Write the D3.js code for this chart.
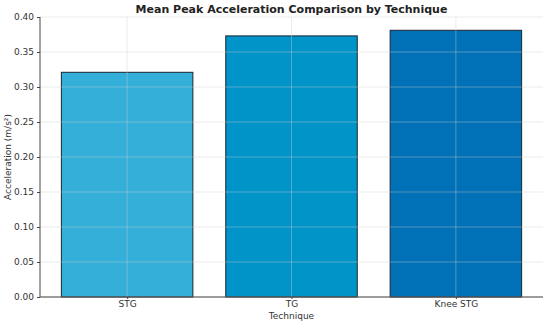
<!DOCTYPE html>
<html><head><meta charset="utf-8">
<script src="https://cdn.jsdelivr.net/npm/d3@7"></script>
<style>body{margin:0;background:#fff}svg{display:block}</style>
</head><body><svg id="c" width="550" height="324"></svg>
<script>
const categories = ["STG", "TG", "Knee STG"];
const values = [0.321, 0.373, 0.381];
const colors = ["#34afd9", "#0094c8", "#0071b7"];
const yTicks = [0, 0.05, 0.10, 0.15, 0.20, 0.25, 0.30, 0.35, 0.40];

const svg = d3.select("#c");
const L = 40, R = 543, T = 17, B = 297;
const x = d3.scaleLinear().domain([-0.53, 2.53]).range([L, R]);
const y = d3.scaleLinear().domain([0, 0.40]).range([B, T]);
const font = "DejaVu Sans, sans-serif";
const fs = 9;

// bars
svg.selectAll("rect.bar").data(values).enter().append("rect")
  .attr("x", (d, i) => x(i - 0.4))
  .attr("width", (d, i) => x(i + 0.4) - x(i - 0.4))
  .attr("y", d => y(d))
  .attr("height", d => y(0) - y(d))
  .attr("fill", (d, i) => colors[i])
  .attr("stroke", "#1b2530").attr("stroke-width", 1);

// grid (on top, faint)
const g = svg.append("g").attr("stroke", "#cccccc").attr("stroke-opacity", 0.5).attr("stroke-width", 0.8);
yTicks.forEach(t => g.append("line").attr("x1", L).attr("x2", R).attr("y1", y(t)).attr("y2", y(t)));
categories.forEach((c, i) => g.append("line").attr("x1", x(i)).attr("x2", x(i)).attr("y1", T).attr("y2", B));

// axes
const ya = svg.append("g").attr("transform", `translate(${L},0)`)
  .call(d3.axisLeft(y).tickValues(yTicks).tickFormat(d3.format(".2f")).tickSize(3).tickPadding(3));
const xa = svg.append("g").attr("transform", `translate(0,${B})`)
  .call(d3.axisBottom(x).tickValues([0, 1, 2]).tickFormat(i => categories[i]).tickSize(2).tickPadding(2));
[ya, xa].forEach(a => {
  a.selectAll("path.domain").attr("stroke", "#444").attr("stroke-width", 1);
  a.selectAll(".tick line").attr("stroke", "#444");
  a.selectAll("text").attr("font-family", font).attr("font-size", fs).attr("fill", "#333");
});
ya.select("path.domain").attr("d", `M0,${T}V${B}`);
xa.select("path.domain").attr("d", `M${L},0H${R}`);

// labels
svg.append("text").attr("x", (L + R) / 2).attr("y", 13).attr("text-anchor", "middle")
  .attr("font-family", font).attr("font-weight", "bold").attr("font-size", 11).attr("fill", "#222")
  .text("Mean Peak Acceleration Comparison by Technique");
svg.append("text").attr("x", (L + R) / 2).attr("y", 318.5).attr("text-anchor", "middle")
  .attr("font-family", font).attr("font-size", fs).attr("fill", "#333").text("Technique");
svg.append("text").attr("transform", `translate(11,${(T + B) / 2}) rotate(-90)`).attr("text-anchor", "middle")
  .attr("font-family", font).attr("font-size", fs).attr("fill", "#333").text("Acceleration (m/s²)");
</script></body></html>
